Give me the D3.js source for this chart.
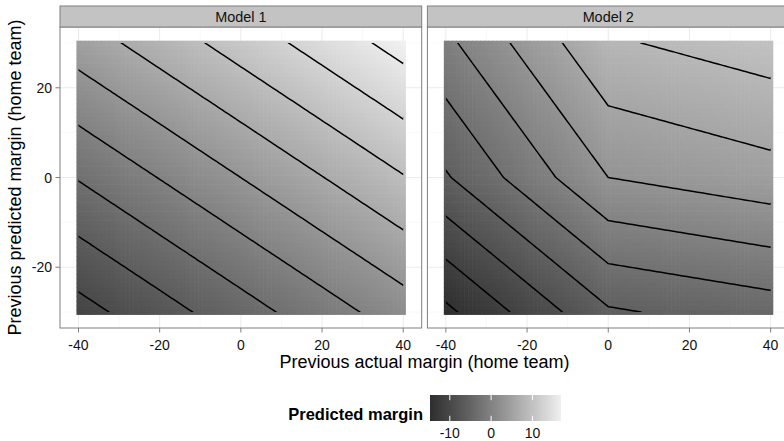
<!DOCTYPE html>
<html>
<head>
<meta charset="utf-8">
<script src="https://cdn.jsdelivr.net/npm/d3@7"></script>
<style>
  body { margin: 0; background: #fff; }
  text { font-family: "Liberation Sans", Arial, Helvetica, sans-serif; }
</style>
</head>
<body>
<div id="chart"></div>
<script>
// facets
var panelNames = ["Model 1", "Model 2"];

// grid of previous actual / previous predicted margins (tile centres)
var actualMargins = d3.range(-40, 41, 1);
var predictedMargins = d3.range(-30, 31, 1);

// fitted coefficients
// model 1: intercept, actual, predicted
var model1Coef = [3.157, 0.1527, 0.2545];
// model 2: intercept, actual<0, actual>0, predicted<0, predicted>0
var model2Coef = [2.83, 0.2194, 0.0439, 0.2948, 0.1769];

// contour levels of each panel
var model1Breaks = [-9.44, -6.29, -3.15, 0, 3.15, 6.29, 9.44, 12.58, 15.73];
var model2Breaks = [-14.15, -11.32, -8.49, -5.66, -2.83, 0, 2.83, 5.66, 8.49];

var xTicks = [-40, -20, 0, 20, 40];
var xMinor = [-30, -10, 10, 30];
var yTicks = [-20, 0, 20];
var yMinor = [-30, -10, 10, 30];
var legendTicks = [-10, 0, 10];

function predict(model, a, p) {
  if (model === 0) {
    return model1Coef[0] + model1Coef[1] * a + model1Coef[2] * p;
  }
  return model2Coef[0] +
    model2Coef[1] * Math.min(a, 0) + model2Coef[2] * Math.max(a, 0) +
    model2Coef[3] * Math.min(p, 0) + model2Coef[4] * Math.max(p, 0);
}

var W = 784, H = 441;
var panelTop = 27, panelBottom = 328, stripTop = 6,
    panelLeft = 60, panelWidth = 361.7, panelGap = 5.7;

var svg = d3.select("#chart").append("svg")
    .attr("width", W)
    .attr("height", H);

var xScale = d3.scaleLinear().domain([-44.55, 44.55]).range([0, panelWidth]);
var yScale = d3.scaleLinear().domain([-33.55, 33.55]).range([panelBottom, panelTop]);

// values per panel (rows from predicted = -30 upwards)
var grids = panelNames.map(function(name, m) {
  var vals = [];
  predictedMargins.forEach(function(p) {
    actualMargins.forEach(function(a) { vals.push(predict(m, a, p)); });
  });
  return vals;
});

var allVals = grids[0].concat(grids[1]);
var colour = d3.scaleLinear()
    .domain(d3.extent(allVals))
    .range(["#2e2e2e", "#f0f0f0"])
    .interpolate(d3.interpolateLab);

var breaks = [model1Breaks, model2Breaks];
var defs = svg.append("defs");

panelNames.forEach(function(name, m) {
  var left = panelLeft + m * (panelWidth + panelGap);
  var g = svg.append("g").attr("transform", "translate(" + left + ",0)");

  // panel background + grid
  g.append("rect")
    .attr("x", 0).attr("y", panelTop)
    .attr("width", panelWidth).attr("height", panelBottom - panelTop)
    .attr("fill", "#fff");

  g.selectAll(".minorx").data(xMinor).enter().append("line")
    .attr("x1", xScale).attr("x2", xScale)
    .attr("y1", panelTop).attr("y2", panelBottom)
    .attr("stroke", "#f5f5f5").attr("stroke-width", 0.6);
  g.selectAll(".minory").data(yMinor).enter().append("line")
    .attr("y1", yScale).attr("y2", yScale)
    .attr("x1", 0).attr("x2", panelWidth)
    .attr("stroke", "#f5f5f5").attr("stroke-width", 0.6);
  g.selectAll(".majorx").data(xTicks).enter().append("line")
    .attr("x1", xScale).attr("x2", xScale)
    .attr("y1", panelTop).attr("y2", panelBottom)
    .attr("stroke", "#ebebeb").attr("stroke-width", 1);
  g.selectAll(".majory").data(yTicks).enter().append("line")
    .attr("y1", yScale).attr("y2", yScale)
    .attr("x1", 0).attr("x2", panelWidth)
    .attr("stroke", "#ebebeb").attr("stroke-width", 1);

  // raster tiles
  var tiles = [];
  predictedMargins.forEach(function(p, j) {
    actualMargins.forEach(function(a, i) {
      tiles.push({a: a, p: p, v: grids[m][j * actualMargins.length + i]});
    });
  });
  g.append("g").selectAll("rect").data(tiles).enter().append("rect")
    .attr("x", function(d) { return xScale(d.a - 0.5); })
    .attr("y", function(d) { return yScale(d.p + 0.5); })
    .attr("width", xScale(1) - xScale(0) + 0.6)
    .attr("height", yScale(0) - yScale(1) + 0.6)
    .attr("fill", function(d) { return colour(d.v); });

  // contour lines
  var clipId = "clip" + m;
  defs.append("clipPath").attr("id", clipId).append("rect")
    .attr("x", left + xScale(-40)).attr("y", yScale(30))
    .attr("width", xScale(40) - xScale(-40))
    .attr("height", yScale(-30) - yScale(30));

  var contours = d3.contours()
    .size([actualMargins.length, predictedMargins.length])
    .thresholds(breaks[m])(grids[m]);

  var proj = d3.geoTransform({
    point: function(u, v) {
      this.stream.point(xScale(actualMargins[0] + u - 0.5),
                        yScale(predictedMargins[0] + v - 0.5));
    }
  });

  svg.append("g")
    .attr("clip-path", "url(#" + clipId + ")")
    .append("g")
    .attr("transform", "translate(" + left + ",0)")
    .selectAll("path").data(contours).enter().append("path")
    .attr("d", d3.geoPath(proj))
    .attr("fill", "none")
    .attr("stroke", "#000")
    .attr("stroke-width", 1.5)
    .attr("stroke-linejoin", "round");

  // border
  g.append("rect")
    .attr("x", 0).attr("y", panelTop)
    .attr("width", panelWidth).attr("height", panelBottom - panelTop)
    .attr("fill", "none").attr("stroke", "#7f7f7f").attr("stroke-width", 1);

  // strip
  g.append("rect")
    .attr("x", 0).attr("y", stripTop)
    .attr("width", panelWidth).attr("height", panelTop - stripTop)
    .attr("fill", "#c3c3c3").attr("stroke", "#7f7f7f").attr("stroke-width", 1);
  g.append("text")
    .attr("x", panelWidth / 2).attr("y", 22)
    .attr("text-anchor", "middle")
    .attr("font-size", 14.4).attr("fill", "#111")
    .text(name);

  // x axis
  var xAxis = g.append("g").attr("transform", "translate(0," + panelBottom + ")");
  xAxis.selectAll("line").data(xTicks).enter().append("line")
    .attr("x1", xScale).attr("x2", xScale)
    .attr("y1", 0).attr("y2", 4.5)
    .attr("stroke", "#7f7f7f");
  xAxis.selectAll("text").data(xTicks).enter().append("text")
    .attr("x", xScale).attr("y", 22)
    .attr("text-anchor", "middle")
    .attr("font-size", 14).attr("fill", "#111")
    .text(function(d) { return d; });

  // y axis only on the first panel
  if (m === 0) {
    var yAxis = g.append("g");
    yAxis.selectAll("line").data(yTicks).enter().append("line")
      .attr("y1", yScale).attr("y2", yScale)
      .attr("x1", -4.5).attr("x2", 0)
      .attr("stroke", "#7f7f7f");
    yAxis.selectAll("text").data(yTicks).enter().append("text")
      .attr("x", -8).attr("y", function(d) { return yScale(d) + 5; })
      .attr("text-anchor", "end")
      .attr("font-size", 14).attr("fill", "#111")
      .text(function(d) { return d; });
  }
});

// axis titles
svg.append("text")
  .attr("x", panelLeft + (2 * panelWidth + panelGap) / 2).attr("y", 368)
  .attr("text-anchor", "middle")
  .attr("font-size", 18).attr("fill", "#000")
  .text("Previous actual margin (home team)");

svg.append("text")
  .attr("transform", "translate(21," + (panelTop + panelBottom) / 2 + ") rotate(-90)")
  .attr("text-anchor", "middle")
  .attr("font-size", 18).attr("fill", "#000")
  .text("Previous predicted margin (home team)");

// legend
var barLeft = 430, barRight = 561, barTop = 395, barH = 26;
var legendScale = d3.scaleLinear().domain(colour.domain()).range([barLeft, barRight]);

var grad = defs.append("linearGradient").attr("id", "legendGrad");
grad.selectAll("stop").data(d3.range(0, 1.0001, 0.05)).enter().append("stop")
  .attr("offset", function(d) { return d; })
  .attr("stop-color", function(d) {
    var dom = colour.domain();
    return colour(dom[0] + d * (dom[1] - dom[0]));
  });

svg.append("rect")
  .attr("x", barLeft).attr("y", barTop)
  .attr("width", barRight - barLeft).attr("height", barH)
  .attr("fill", "url(#legendGrad)");

svg.selectAll(".ltick-top").data(legendTicks).enter().append("line")
  .attr("x1", legendScale).attr("x2", legendScale)
  .attr("y1", barTop).attr("y2", barTop + barH / 5)
  .attr("stroke", "#fff").attr("stroke-width", 1);
svg.selectAll(".ltick-bot").data(legendTicks).enter().append("line")
  .attr("x1", legendScale).attr("x2", legendScale)
  .attr("y1", barTop + barH - barH / 5).attr("y2", barTop + barH)
  .attr("stroke", "#fff").attr("stroke-width", 1);

svg.selectAll(".llabel").data(legendTicks).enter().append("text")
  .attr("x", legendScale).attr("y", 438)
  .attr("text-anchor", "middle")
  .attr("font-size", 14).attr("fill", "#111")
  .text(function(d) { return d; });

svg.append("text")
  .attr("x", 423).attr("y", 420)
  .attr("text-anchor", "end")
  .attr("font-size", 16.5).attr("font-weight", "bold").attr("fill", "#000")
  .text("Predicted margin");
</script>
</body>
</html>
